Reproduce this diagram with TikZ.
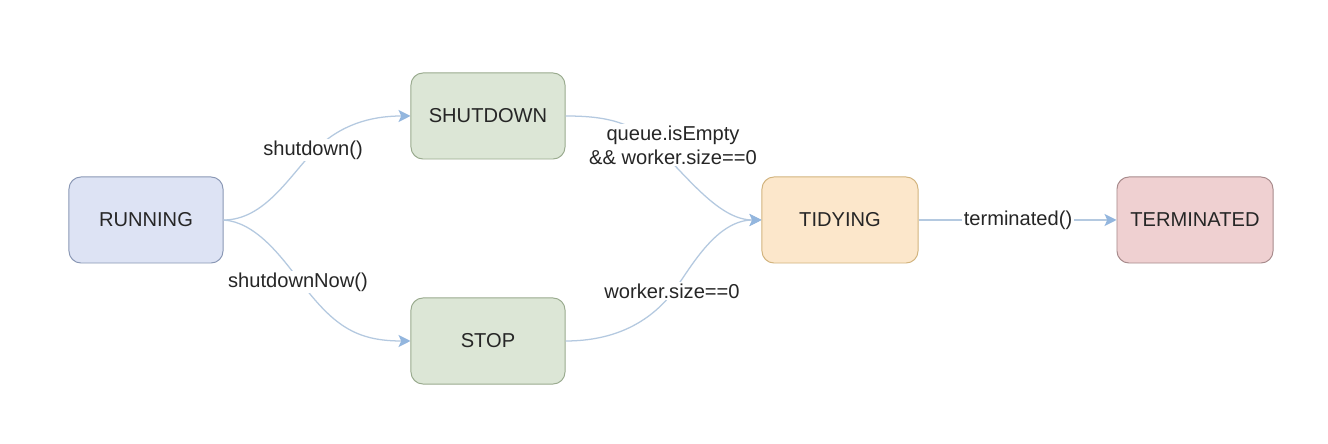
\documentclass[tikz,border=0pt]{standalone}
\usepackage{fontspec}
\setmainfont{Liberation Sans}
\usetikzlibrary{arrows.meta}

\definecolor{runfill}{HTML}{DDE3F4}
\definecolor{rundraw}{HTML}{8A98B5}
\definecolor{greenfill}{HTML}{DCE6D6}
\definecolor{greendraw}{HTML}{9AAB8F}
\definecolor{tidyfill}{HTML}{FCE7CB}
\definecolor{tidydraw}{HTML}{D2B47E}
\definecolor{termfill}{HTML}{EFD0D1}
\definecolor{termdraw}{HTML}{A88B8C}
\definecolor{linec}{HTML}{B4C9E0}
\definecolor{arrowc}{HTML}{93B6DE}
\definecolor{textc}{HTML}{262626}

\tikzset{
  state/.style={draw, rounded corners=0.3cm, line width=0.7pt,
    minimum width=3.85cm, minimum height=2.15cm, text=textc,
    font=\fontsize{14.3}{17}\selectfont},
  edge/.style={draw=linec, line width=0.9pt,
    -{Stealth[length=0.3cm, width=0.3cm, inset=0.07cm, color=arrowc]}},
  lbl/.style={fill=white, inner sep=1pt, text=textc, align=center,
    font=\fontsize{14.3}{17}\selectfont}
}

\begin{document}
\begin{tikzpicture}[x=0.025cm, y=-0.025cm]
                % Canvas
                \useasboundingbox[fill=white] (0,0) rectangle (1328,444);

                % States
                \node[state, fill=runfill, draw=rundraw] (running) at (146,220) {RUNNING};
                \node[state, fill=greenfill, draw=greendraw] (shutdown) at (488,116) {SHUTDOWN};
                \node[state, fill=greenfill, draw=greendraw] (stop) at (488,341) {STOP};
                \node[state, fill=tidyfill, draw=tidydraw, minimum width=3.9cm] (tidying) at (840,220) {TIDYING};
                \node[state, fill=termfill, draw=termdraw, minimum width=3.9cm] (terminated) at (1195,220) {TERMINATED};

                % Transitions
                \draw[edge] (running.east) .. controls (265,220) and (290,175) .. (315,150)
                    .. controls (340,125) and (370,116) .. (shutdown.west);
                \draw[edge] (running.east) .. controls (255,222) and (280,255) .. (299,280)
                    .. controls (333,325) and (355,341) .. (stop.west);
                \draw[edge] (shutdown.east) .. controls (600,116) and (630,120) .. (654,144)
                    .. controls (690,180) and (720,220) .. (tidying.west);
                \draw[edge] (stop.east) .. controls (615,341) and (650,322) .. (673,292)
                    .. controls (689,271) and (715,220) .. (tidying.west);
                \draw[edge] (tidying) -- (terminated);

                % Labels
                \node[lbl] (lshutdown) at (313,150) {shutdown()};
                \node[lbl] (lshutdownnow) at (298,282) {shutdownNow()};
                \node[lbl] (lqueue) at (673,145) {queue.isEmpty\\\&\& worker.size==0};
                \node[lbl] (lworker) at (672,291) {worker.size==0};
                \node[lbl] (lterminated) at (1018,220) {terminated()};
            \end{tikzpicture}
\end{document}
